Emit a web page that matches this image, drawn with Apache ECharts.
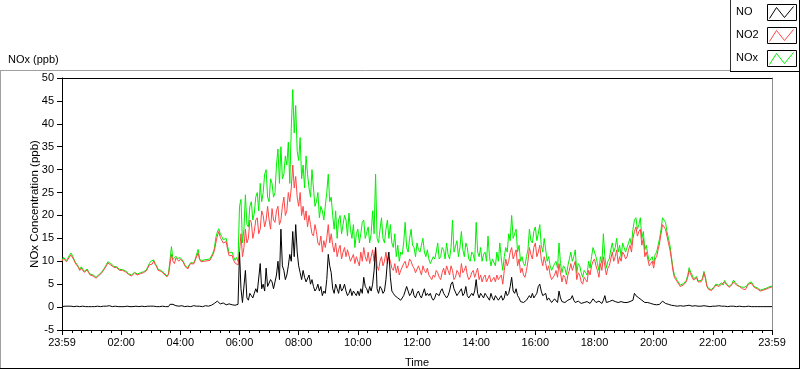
<!DOCTYPE html>
<html><head><meta charset="utf-8">
<script src="https://cdn.jsdelivr.net/npm/echarts@6/dist/echarts.min.js"></script>
<style>html,body{margin:0;padding:0;background:#fff}#c{width:800px;height:369px}</style>
</head><body><div id="c"></div>
<script>
const seriesNames = ['NO', 'NO2', 'NOx'];
const seriesColors = ['#000000', '#ff4646', '#00f000'];
const xTickLabels = ['23:59','02:00','04:00','06:00','08:00','10:00','12:00','14:00','16:00','18:00','20:00','22:00','23:59'];
const stepMinutes = 3;

const NO = [
0.1,0.2,0.2,0.1,0.2,0.2,0.2,0.3,0.1,0.2,
0.2,0.1,0.1,0.2,0.2,0.1,0.1,0.2,0.1,0.2,
0.1,0.2,0.1,0.1,0.2,0.1,0.1,0.2,0.2,0.1,
0.2,0.2,0.3,0.2,0.1,0.2,0.2,0.1,0.1,0.2,
0.1,0.2,0.1,0.1,0.2,0.1,0.1,0.2,0.1,0.2,
0.2,0.1,0.1,0.2,0.2,0.1,0.1,0.2,0.2,0.3,
0.2,0.1,0.2,0.2,0.1,0.2,0.1,0.1,0.2,0.1,
0.1,0.2,0.1,0.6,1.0,0.6,0.4,0.3,0.3,0.2,
0.2,0.3,0.2,0.1,0.1,0.2,0.2,0.1,0.2,0.3,
0.2,0.2,0.3,0.2,0.2,0.1,0.2,0.3,0.2,0.2,
0.3,0.4,0.5,0.8,1.2,1.3,1.0,0.7,0.8,0.9,
0.7,0.5,0.6,0.7,0.6,0.5,0.5,0.4,0.4,0.6,
12,4,1.0,1.2,8,2,1.5,3,2.5,2,
3,4,3.2,3.5,9.5,4,5,3.5,8.5,4.5,
4.5,6,5.5,4,5.5,7,10,6,17,9,
8,6,7,9,11.5,10,16.5,11,18,12,
9,7.5,6,8,6.5,5.5,5.5,7,5,6,
4.5,3.5,4,5,3.5,4.5,2.5,3.5,3,6,
11.5,9,7.5,4,3,5,4,3,5,3.5,
4,5,3.5,2.5,3,4,2.5,3.5,3,2.5,
3.5,2.5,4,3,6.5,4.5,4,3,4.5,3.5,
5,8,13,4,3,4.5,4,3,3.5,6,
10,12,6.5,3.5,3,2.5,2.5,2,2,1.5,
1.8,2.5,3.5,4.5,3.5,2.5,3,4,2.5,2,
3,3.5,2.5,2,3,4,2.5,3,2.5,3,
2,1.5,2,3,3,2.5,3.5,4,3,2.5,
2,2.5,3.5,5,5.5,4,4,2.5,3,3.5,
4,2.5,3,4.5,2.5,2,2,3,2.5,3.5,
6,3,2,3,2.5,2,3,2.5,2.5,1.5,
3,2,1.5,2.5,2,1.5,1.5,2.5,1.5,2,
3.5,2.5,3,4.5,6.5,3.5,3,4,2.5,2,
1.2,1.5,1,1.2,1.5,2,2.5,2,3,2,
2.5,3,4.5,5,3.5,2.5,2.5,3,1.5,2,
1.5,1,1.2,1.8,1.5,1,3.5,2,1.2,1.5,
1,0.8,1.5,1.2,1.8,2.5,1.5,1,1,1.3,
1.5,0.8,0.8,1,0.8,1.2,1,0.8,1.2,1.8,
1.5,1,1,1.3,1,0.8,1.5,2.5,1,0.7,
1.2,1,1.5,1.2,1.2,1.6,1,0.8,1.2,1,
1,1.4,1,0.8,1.2,1.3,1.5,3,2.5,2.2,
2,1.8,1.5,1.2,1,1.2,1,0.7,0.8,0.6,
0.6,0.8,0.5,0.7,0.6,1.0,1.3,0.9,0.8,1.1,
0.6,0.5,0.4,0.5,0.3,0.2,0.2,0.3,0.3,0.1,
0.2,0.3,0.3,0.2,0.4,0.3,0.2,0.1,0.3,0.2,
0.2,0.3,0.2,0.1,0.3,0.2,0.2,0.1,0.1,0.2,
0.2,0.1,0.2,0.3,0.3,0.1,0.2,0.2,0.2,0.1,
0.1,0.2,0.2,0.1,0.2,0.2,0.1,0.2,0.2,0.1,
0.1,0.2,0.1,0.1,0.2,0.1,0.1,0.2,0.1,0.1,
0.1,0.2,0.1,0.1,0.1,0.1,0.1,0.2,0.1,0.1,
0.1
];

const NO2 = [
10.0,10.6,10.4,9.9,10.2,10.9,11.4,11.0,10.3,9.6,
9.2,8.7,8.0,8.5,8.2,7.6,7.9,8.1,7.5,7.0,
6.9,6.8,6.5,6.3,6.6,6.9,6.8,7.5,8.0,8.4,
9.0,9.6,9.8,9.2,8.9,8.7,8.3,8.6,8.2,8.0,
8.3,8.0,7.8,7.7,7.4,7.1,7.0,6.8,7.1,7.4,
7.2,7.0,7.4,7.3,7.1,7.5,7.6,7.9,8.5,9.2,
9.6,9.4,10.1,9.3,8.8,8.0,7.6,7.8,7.4,7.2,
6.9,6.6,7.1,7.3,11.5,10.0,9.5,10.7,10.3,10.0,
10.5,10.8,9.8,9.0,8.6,8.3,9.0,9.5,9.7,9.4,
10.2,10.6,11.8,10.4,9.9,9.6,10.0,10.3,10.1,9.8,
10.2,10.6,11.4,12.3,14.0,15.5,16.5,15.2,14.6,14.0,
13.8,14.3,12.5,11.2,10.8,11.3,10.2,9.6,10.0,9.2,
12,16,11,13,17,14,15,19,18.5,15,
16.5,19,19.5,16,17,21,20,17.5,19,22,
19,17,21.5,19,18.5,21,22,18,19,22,
24,20,21,25,23,26,31,26,28.5,24,
22,25,20,22,19,21,17.5,20,18,16,
15.5,18,16.5,14,13.5,15.5,12,14.5,13,15,
18,14,16,13.5,12,14,11,12.5,13.5,10.5,
12,13,11,12.5,12.5,10,10,11.5,9.5,11,
10,9,12,10,13,11,10,12,9.5,11,
12.5,10,13,9,8,10,11,9,10,12,
9.5,11,10,8.5,8,9.5,7.5,9,7,8,
8,9.5,10,8.5,9,10.5,10,9,8.5,7.5,
7.5,9,8,7,9,8,7.5,8.5,7,6.5,
6,7,6.5,8,7.5,6.5,6,7.5,8.5,7,
9,8,7,9,8,6,6.5,8,7.5,6.5,
9.5,7.5,8,9,7,6,6.5,7.5,8,6.5,
7.5,8.5,6,7,5.5,6.5,7,5.5,5.5,7,
5.5,6,6.5,5.5,7,6,6,7,5,8,
10.5,9,10,12,13,10.5,11.5,12.5,9,10.5,
7.5,8.5,7,6.5,8,10,13,11.5,10.5,13,
14,11,12,13.5,10.5,9,11,9.5,8,9,
7,6,6,7,8,6.5,9.5,7.5,5.5,7,
6.5,5,7,8,9.5,8,9,10,6,7.5,
7,5.5,5,6.5,6,5.5,8,7,9,10,
10.5,9,8,6.5,9.5,8,11,9,7,8.5,
9,10.5,12,10,11,12.5,9.5,11,10,12,
11.5,10.5,11,12.5,13.5,12,15,16.5,17.5,15.5,
16.5,17,13.5,15,11,12,10.5,9,9.5,10,
8.5,10.5,11,12.5,14,16,18,17.5,17,15.5,
14,12.5,10.5,8,6.5,6,5.5,5,4.5,4.2,
4.8,5.1,5.5,6.5,8,7.2,6.5,5.9,6,6.4,
5.5,5.2,5.5,6,7.5,6.2,4.5,3.9,3.5,3.6,
3.8,4.3,4.8,4.4,4.5,4.8,5.0,4.6,5.5,5.0,
4.6,4.3,4.4,4.9,5.5,5.2,4.8,4.5,4.5,4.2,
4.0,4.1,3.8,4.4,5.0,4.7,5.2,4.8,4.3,4.1,
4.0,3.7,3.5,3.6,3.7,4.0,3.9,4.1,4.2,4.5,
4.4
];

const NOx = [
10.2,10.9,10.6,10.1,10.5,11.3,11.8,11.3,10.5,9.8,
9.4,8.9,8.2,8.8,8.6,7.8,8.1,8.3,7.7,7.2,
7.1,7.0,6.7,6.5,6.8,7.1,7.0,7.7,8.2,8.7,
9.3,9.9,10.2,9.5,9.1,8.9,8.5,8.8,8.4,8.2,
8.5,8.2,8.0,7.9,7.6,7.3,7.2,7.0,7.3,7.6,
7.4,7.2,7.6,7.5,7.3,7.7,7.8,8.1,8.8,9.5,
10.0,9.7,10.3,9.5,9.0,8.2,7.8,8.0,7.6,7.4,
7.1,6.8,7.3,7.5,13.2,10.4,10.0,11.1,10.6,10.3,
10.8,11.1,10.0,9.2,8.8,8.5,9.2,9.7,9.9,9.6,
10.4,10.8,12.6,10.6,10.1,9.8,10.3,10.6,10.4,10.1,
10.5,10.9,11.8,12.8,15.2,16.4,17.1,16.0,15.4,14.7,
14.5,15.0,13.2,11.8,11.4,12.0,11.0,10.2,10.8,10.0,
22,23.5,14,17,24.5,18,17.5,22,23,19,
20.5,24,25,21,27,23,25,29,30,24,
23,28,27,24,25,31,34.5,27,35,28,
29,33,31,36,27,39,47.5,38,44,34,
32,37,28,31,26,33,29,26,24,30,
26,22,23,25,19.5,22,21,19,22,25,
29,23,24,20,17,21,15,19,20,16,
16,20,19,15.5,20.5,17,15,18,13,16,
17,14,16,18.5,19,15,15,17.5,14,16,
21,16,29,15,14,17,19.5,15,14,17,
19,15,18,14,13,16,11,13.5,10,12,
11.5,14,18.5,13,12,15,17,13.5,13,11,
14,12.5,12,13.5,15,12,11,12.5,10.5,9.5,
9.5,11,10.5,12,14,10.5,11,13,12.5,10.5,
14,11.5,10.5,13,19,12,12,14.5,11,13,
16.5,12.5,11,14,13,10.5,10,12,11.5,10,
18.5,12,11,13,10,11.5,12,10,15.5,11,
9,10.5,10.5,9,12,10,14,10.5,8,11,
13,12,16,14.5,20,15,15,17,12,13.5,
10,11,9.5,9,11,12.5,17,14.5,14,16.5,
17.5,14.5,16,18,13.5,12,15,12.5,10,11,
9,8,8,9.5,10,8.5,14,9.5,7.5,9,
8.5,7,9,10.5,12,10,11,12.5,7.5,9.5,
9,7.5,6.5,8,7.5,7,10,8.5,11,13,
13,11,9.5,8,11,9.5,16,11,8.5,10,
10.5,12.5,14,12,13,15,12,13.5,11,14,
13,12,12,14,15,13.5,17,19,19.5,17,
18,19.5,15,16.5,12.5,13.5,11.5,10,10.5,11,
9.5,11.5,12,13.5,15,17,19.5,19,18.5,16.5,
15,13.5,11,8.6,7,6.4,5.8,5.3,4.8,4.5,
5.1,5.4,5.8,6.9,8.6,7.6,7,6.2,6.3,6.7,
5.7,5.4,5.8,6.3,7.8,6.5,4.7,4.1,3.7,3.8,
4.0,4.5,5.0,4.6,4.8,5.0,5.3,4.8,5.8,5.2,
4.8,4.5,4.6,5.1,5.9,5.4,5.0,4.7,4.7,4.4,
4.2,4.3,4.0,4.6,5.2,4.9,5.5,5.0,4.5,4.3,
4.2,3.9,3.7,3.8,3.9,4.2,4.1,4.3,4.4,4.7,
4.6
];

const valuesByName = { 'NO': NO, 'NO2': NO2, 'NOx': NOx };
const toPairs = arr => arr.map((v, i) => [i * stepMinutes, v]);

const FONT = 'Liberation Sans';
const txt = { color: '#000', fontFamily: FONT, fontSize: 11 };

const chart = echarts.init(document.getElementById('c'), null, { renderer: 'canvas' });

// draw order: NOx under, NO2, NO on top
const drawOrder = ['NOx', 'NO2', 'NO'];
const series = drawOrder.map(name => ({
  name: name,
  type: 'line',
  xAxisIndex: 0, yAxisIndex: 0,
  data: toPairs(valuesByName[name]),
  showSymbol: false,
  symbol: 'none',
  lineStyle: { width: 1, color: seriesColors[seriesNames.indexOf(name)] },
  itemStyle: { color: seriesColors[seriesNames.indexOf(name)] },
  emphasis: { disabled: true },
  silent: true,
  z: 2 + drawOrder.indexOf(name)
}));

// legend built as graphic: label + boxed zig-zag swatch
const legendGraphics = [];
seriesNames.forEach((name, k) => {
  const top = 4 + k * 23;
  legendGraphics.push({
    type: 'text', left: 736, top: top + 2,
    style: { text: name, fill: '#000', font: '11px "' + FONT + '"' }
  });
  legendGraphics.push({
    type: 'rect', shape: { x: 767.5, y: top + 0.5, width: 29, height: 16 },
    style: { fill: '#fff', stroke: '#000', lineWidth: 1 }
  });
  legendGraphics.push({
    type: 'polyline',
    shape: { points: [[769.5, top + 14.5], [776.5, top + 3.5], [784.5, top + 13.5], [793.5, top + 2.5]] },
    style: { stroke: seriesColors[k], lineWidth: 1, fill: null }
  });
});

const frameGraphics = [
  { type: 'line', shape: { x1: 0, y1: 70.5, x2: 731, y2: 70.5 }, style: { stroke: '#a0a0a0', lineWidth: 1 } },
  { type: 'line', shape: { x1: 0.5, y1: 70, x2: 0.5, y2: 369 }, style: { stroke: '#a0a0a0', lineWidth: 1 } },
  { type: 'line', shape: { x1: 0, y1: 368.5, x2: 800, y2: 368.5 }, style: { stroke: '#000', lineWidth: 1 } },
  { type: 'line', shape: { x1: 799.5, y1: 0, x2: 799.5, y2: 369 }, style: { stroke: '#000', lineWidth: 1 } },
  { type: 'line', shape: { x1: 730.5, y1: 0, x2: 730.5, y2: 72 }, style: { stroke: '#303030', lineWidth: 1 } },
  { type: 'line', shape: { x1: 730, y1: 71.5, x2: 800, y2: 71.5 }, style: { stroke: '#000', lineWidth: 1 } }
];

chart.setOption({
  animation: false,
  backgroundColor: '#fff',
  title: {
    text: 'NOx (ppb)', left: 3, top: 49,
    textStyle: { color: '#000', fontFamily: FONT, fontSize: 11, fontWeight: 'normal' }
  },
  grid: { left: 62, right: 28, top: 78, bottom: 39, containLabel: false, outerBoundsMode: 'none' },
  xAxis: [{
    type: 'value', min: 0, max: 1440, interval: 120, position: 'bottom',
    axisLine: { show: true, onZero: false, lineStyle: { color: '#000', width: 1 } },
    axisTick: { show: true, inside: false, length: 5, lineStyle: { color: '#000' } },
    minorTick: { show: true, splitNumber: 6, length: 3, lineStyle: { color: '#000' } },
    splitLine: { show: false },
    axisLabel: { ...txt, margin: 7, showMinLabel: true, showMaxLabel: true, hideOverlap: false,
      formatter: v => xTickLabels[Math.round(v / 120)] },
    name: 'Time', nameLocation: 'middle', nameGap: 27, nameMoveOverlap: false,
    nameTextStyle: { ...txt }
  }, {
    type: 'value', min: 0, max: 1440, position: 'top',
    axisLine: { show: true, onZero: false, lineStyle: { color: '#000', width: 1 } },
    axisTick: { show: false }, axisLabel: { show: false }, splitLine: { show: false }
  }],
  yAxis: [{
    type: 'value', min: -5, max: 50, interval: 5, position: 'left',
    axisLine: { show: true, onZero: false, lineStyle: { color: '#000', width: 1 } },
    axisTick: { show: true, inside: false, length: 5, lineStyle: { color: '#000' } },
    splitLine: { show: false },
    axisLabel: { ...txt, margin: 8, showMinLabel: true, showMaxLabel: true },
    name: 'NOx Concentration (ppb)', nameLocation: 'middle', nameGap: 21, nameRotate: 90,
    nameMoveOverlap: false,
    nameTextStyle: { ...txt, fontSize: 11.5 }
  }, {
    type: 'value', min: -5, max: 50, position: 'right',
    axisLine: { show: true, onZero: false, lineStyle: { color: '#8c8c8c', width: 1 } },
    axisTick: { show: false }, axisLabel: { show: false }, splitLine: { show: false }
  }],
  series: series,
  graphic: frameGraphics.concat(legendGraphics)
});
</script></body></html>
